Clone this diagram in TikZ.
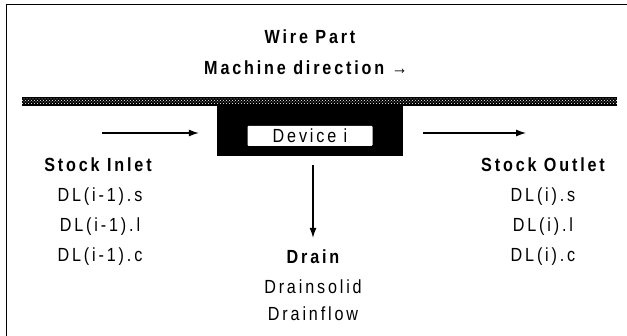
\documentclass[tikz,border=0pt]{standalone}
\usepackage{fontspec}
\setmainfont[LetterSpace=15,FakeStretch=0.85]{Liberation Sans}
\usetikzlibrary{patterns,arrows.meta}
\begin{document}
\begin{tikzpicture}[x=1pt,y=-1pt,
  lbl/.style={font=\fontsize{19}{21}\selectfont, inner sep=0pt},
  blbl/.style={font=\fontsize{19}{21}\selectfont\bfseries, inner sep=0pt},
  arr/.style={line width=1.1pt, -{Latex[length=10pt,width=7pt]}}]
\useasboundingbox (0,0) rectangle (627,336);
% frame (top and left only)
\draw[line width=1pt] (6,5) -- (627,5);
\draw[line width=1pt] (6,5) -- (6,336);
% titles
\node[blbl] (wire) at (310,37) {Wire Part};
\node[blbl] (md) at (306,68) {Machine direction \char"2192};
% wire band
\fill[black] (22,97) rectangle (617,106);
\pattern[pattern=crosshatch dots, pattern color=white] (22,99) rectangle (617,104);
% device
\node[fill=black, minimum width=186pt, minimum height=50pt, inner sep=0pt] (dev) at (310,131) {};
\node[lbl, fill=white, minimum width=125pt, minimum height=20pt, rounded corners=1pt] (devi) at (310,136) {Device i};
% inlet
\coordinate (inA) at (102,133);
\draw[arr, shorten >=18pt] (inA) -- (inA -| dev.west);
\node[blbl] (sin) at (98,165) {Stock Inlet};
\node[lbl] (s1) at (100,197) {DL(i-1).s};
\node[lbl] (s2) at (100,227) {DL(i-1).l};
\node[lbl] (s3) at (100,257) {DL(i-1).c};
% outlet
\coordinate (outB) at (526,133);
\draw[arr, shorten <=20pt] (outB -| dev.east) -- (outB);
\node[blbl] (sout) at (543,165) {Stock Outlet};
\node[lbl] (o1) at (543,197) {DL(i).s};
\node[lbl] (o2) at (543,227) {DL(i).l};
\node[lbl] (o3) at (543,257) {DL(i).c};
% drain
\node[blbl] (drain) at (313,257) {Drain};
\node[lbl] (d1) at (313,287) {Drainsolid};
\node[lbl] (d2) at (313,314) {Drainflow};
\draw[arr, shorten <=9pt, shorten >=12pt] (dev.south -| drain.north) -- (drain.north);
\end{tikzpicture}
\end{document}
